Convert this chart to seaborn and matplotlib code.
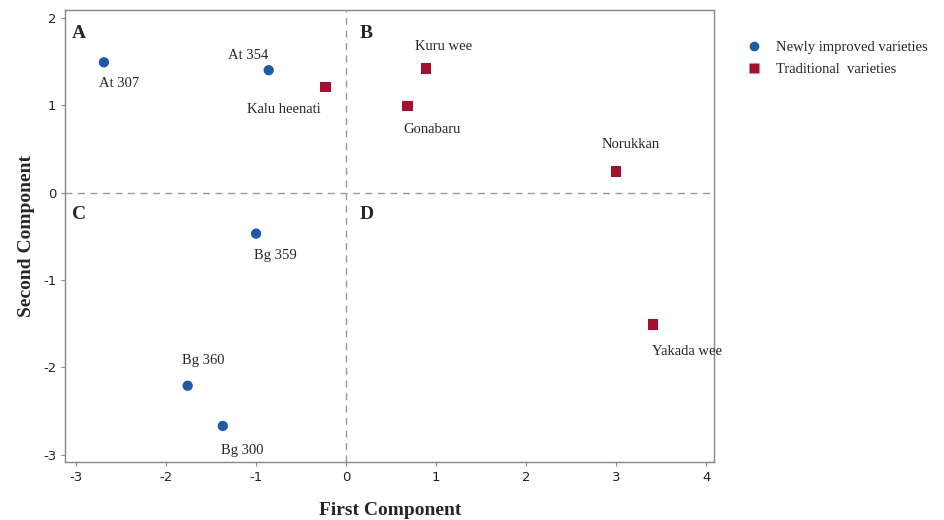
import matplotlib
matplotlib.use("Agg")
import matplotlib.pyplot as plt
import seaborn as sns
import pandas as pd

names = ["At 307", "At 354", "Bg 359", "Bg 360", "Bg 300",
         "Kalu heenati", "Kuru wee", "Gonabaru", "Norukkan", "Yakada wee"]
first = [-2.69, -0.86, -1.00, -1.76, -1.37, -0.23, 0.89, 0.68, 3.00, 3.41]
second = [1.49, 1.40, -0.47, -2.21, -2.67, 1.21, 1.42, 0.99, 0.24, -1.51]
group = ["Newly improved varieties"] * 5 + ["Traditional  varieties"] * 5
xticks = [-3, -2, -1, 0, 1, 2, 3, 4]
yticks = [-3, -2, -1, 0, 1, 2]
quadrants = ["A", "B", "C", "D"]

df = pd.DataFrame({"First": first, "Second": second, "Group": group, "Name": names})

sns.set_style("white")
plt.rcParams["font.family"] = ["Liberation Serif", "DejaVu Serif"]
plt.rcParams["axes.unicode_minus"] = False

fig = plt.figure(figsize=(9.45, 5.2), dpi=100)
ax = fig.add_axes([0.069, 0.112, 0.687, 0.869])

sns.scatterplot(data=df, x="First", y="Second", hue="Group", style="Group",
                palette={"Newly improved varieties": "#1f5aa6", "Traditional  varieties": "#a3112e"},
                markers={"Newly improved varieties": "o", "Traditional  varieties": "s"},
                s=55, edgecolor="none", ax=ax, zorder=3)

ax.axhline(0, color="#999999", ls=(0, (5, 4)), lw=1, zorder=1)
ax.axvline(0, color="#999999", ls=(0, (5, 4)), lw=1, zorder=1)

ax.set_xlim(-3.12, 4.09)
ax.set_ylim(-3.08, 2.09)
ax.set_xticks(xticks)
ax.set_yticks(yticks)
ax.tick_params(axis="both", length=3, color="#888888", direction="out",
               bottom=True, left=True)
for lab in ax.get_xticklabels() + ax.get_yticklabels():
    lab.set_family(["DejaVu Sans"])
    lab.set_fontsize(9.5)
    lab.set_color("#222222")
for sp in ax.spines.values():
    sp.set_color("#888888")
    sp.set_linewidth(1)

ax.set_xlabel("First Component", fontsize=14, fontweight="bold", labelpad=13)
ax.set_ylabel("Second Component", fontsize=14, fontweight="bold", labelpad=6)

offsets = {
    "At 307": (15, -21), "At 354": (-21, 15), "Kalu heenati": (-42, -23),
    "Kuru wee": (17, 22), "Gonabaru": (25, -23), "Norukkan": (14, 27),
    "Yakada wee": (34, -27), "Bg 359": (19, -22), "Bg 360": (16, 25),
    "Bg 300": (19, -25),
}
for n, x, y in zip(names, first, second):
    dx, dy = offsets[n]
    ax.annotate(n, (x, y), xytext=(dx, dy), textcoords="offset pixels",
                ha="center", va="center", fontsize=10.5)

qpos = [(-3.05, 1.82), (0.15, 1.82), (-3.05, -0.25), (0.15, -0.25)]
for q, (qx, qy) in zip(quadrants, qpos):
    ax.text(qx, qy, q, fontsize=14, fontweight="bold", ha="left", va="center")

leg = ax.legend(loc="upper left", bbox_to_anchor=(1.03, 0.945), frameon=False,
                fontsize=10.5, handletextpad=0.5, labelspacing=0.6, title=None,
                borderaxespad=0)
for h in leg.legend_handles:
    try:
        h.set_markersize(7)
    except AttributeError:
        pass

fig.savefig("out.png", dpi=100)
